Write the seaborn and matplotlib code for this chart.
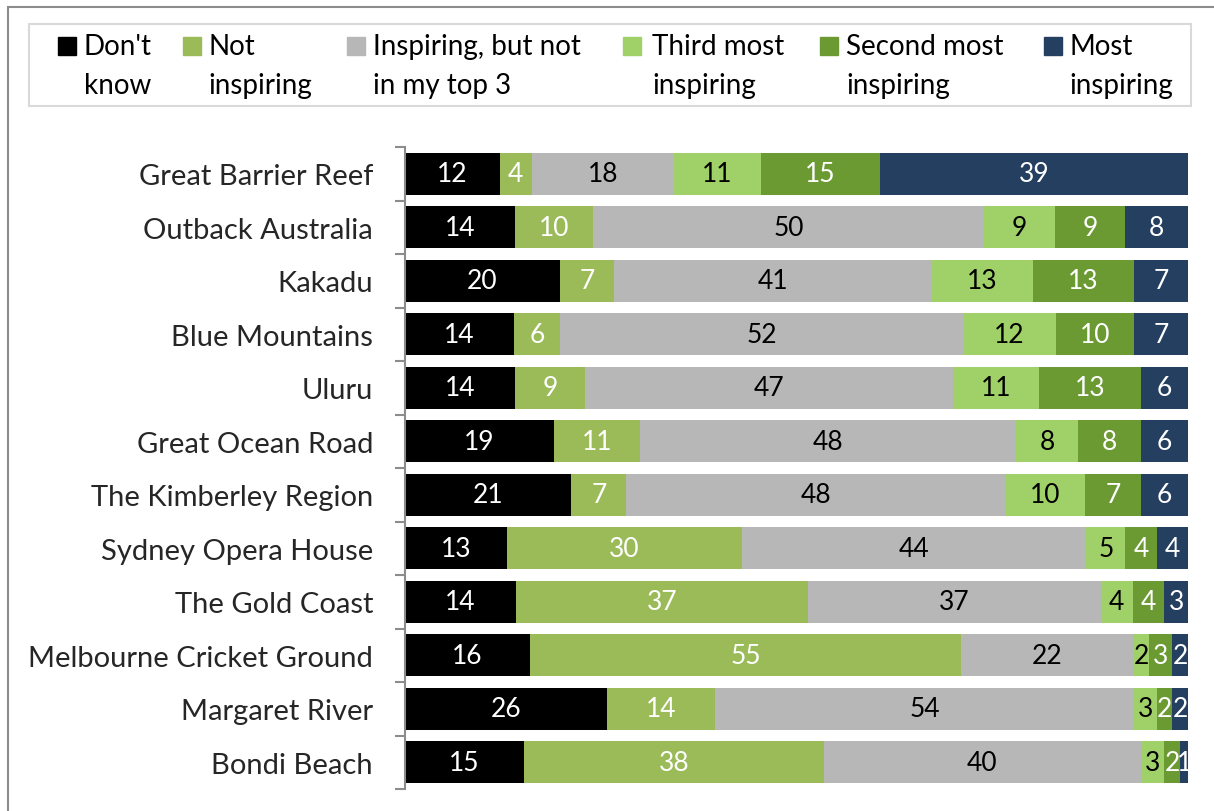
import numpy as np
import pandas as pd
import matplotlib
matplotlib.use("Agg")
import matplotlib.pyplot as plt
import seaborn as sns
from matplotlib.patches import Rectangle

categories = ["Great Barrier Reef", "Outback Australia", "Kakadu", "Blue Mountains",
              "Uluru", "Great Ocean Road", "The Kimberley Region", "Sydney Opera House",
              "The Gold Coast", "Melbourne Cricket Ground", "Margaret River", "Bondi Beach"]
series = ["Don't\nknow", "Not\ninspiring", "Inspiring, but not\nin my top 3",
          "Third most\ninspiring", "Second most\ninspiring", "Most\ninspiring"]
dont_know = [12, 14, 20, 14, 14, 19, 21, 13, 14, 16, 26, 15]
not_insp = [4, 10, 7, 6, 9, 11, 7, 30, 37, 55, 14, 38]
insp_not_top3 = [18, 50, 41, 52, 47, 48, 48, 44, 37, 22, 54, 40]
third_most = [11, 9, 13, 12, 11, 8, 10, 5, 4, 2, 3, 3]
second_most = [15, 9, 13, 10, 13, 8, 7, 4, 4, 3, 2, 2]
most_insp = [39, 8, 7, 7, 6, 6, 6, 4, 3, 2, 2, 1]

colors = ["#000000", "#9BBB59", "#B7B7B7", "#A0D068", "#6B9A33", "#243F60"]
text_colors = ["white", "white", "black", "black", "white", "white"]

sns.set_theme(style="white")
plt.rcParams['font.family'] = ['Lato', 'DejaVu Sans']

W, H = 1214, 812
vals = np.array([dont_know, not_insp, insp_not_top3, third_most, second_most, most_insp], dtype=float)
totals = vals.sum(axis=0)
shares = vals / totals * 100
cum = np.cumsum(shares, axis=0)

fig = plt.figure(figsize=(W / 100, H / 100), dpi=100)
fig.patches.append(Rectangle((8 / W, -0.1), 1.2, 1 - 8 / H + 0.1, transform=fig.transFigure,
                             fill=False, edgecolor="#8C8C8C", linewidth=1.5))
ax = fig.add_axes([405 / W, 1 - 790 / H, (1188 - 405) / W, (790 - 148) / H])

for i in range(len(series) - 1, -1, -1):
    df = pd.DataFrame({"cat": categories, "val": cum[i]})
    sns.barplot(data=df, y="cat", x="val", color=colors[i], orient="h", ax=ax,
                width=0.79, saturation=1, linewidth=0)
if ax.get_legend() is not None:
    ax.get_legend().remove()

for i in range(len(series)):
    start = cum[i] - shares[i]
    for j, c in enumerate(categories):
        ax.text(start[j] + shares[i][j] / 2, j, f"{int(vals[i][j])}", ha="center", va="center",
                color=text_colors[i], fontsize=19)

ax.set_xlim(0, 100)
ax.set_ylim(len(categories) - 0.5, -0.5)
ax.set_xlabel("")
ax.set_ylabel("")
ax.set_xticks([])
for s in ["top", "right", "bottom"]:
    ax.spines[s].set_visible(False)
ax.spines["left"].set_color("#8C8C8C")
ax.spines["left"].set_linewidth(1.5)
ax.set_yticks(np.arange(len(categories)))
ax.set_yticklabels(categories, fontsize=21)
ax.tick_params(axis="y", which="major", length=0, pad=23)
ax.set_yticks(np.arange(len(categories) + 1) - 0.5, minor=True)
ax.tick_params(axis="y", which="minor", length=7, width=1.5, color="#8C8C8C", left=True)

# manual legend (Excel style: swatch aligned with first text line)
fig.patches.append(Rectangle((29 / W, 1 - 107 / H), (1191 - 29) / W, (107 - 25) / H,
                             transform=fig.transFigure, fill=False, edgecolor="#D9D9D9",
                             linewidth=1.5))
sw_x = [58, 183, 347, 623, 820, 1044]
tx_x = [84, 208, 373, 652, 846, 1069]
for i, lab in enumerate(series):
    fig.patches.append(Rectangle((sw_x[i] / W, 1 - 56 / H), 18 / W, 18 / H,
                                 transform=fig.transFigure, color=colors[i]))
    fig.text(tx_x[i] / W, 1 - 34 / H, lab, ha="left", va="top", fontsize=20,
             linespacing=1.62, color="black")

fig.savefig("out.png", dpi=100)
